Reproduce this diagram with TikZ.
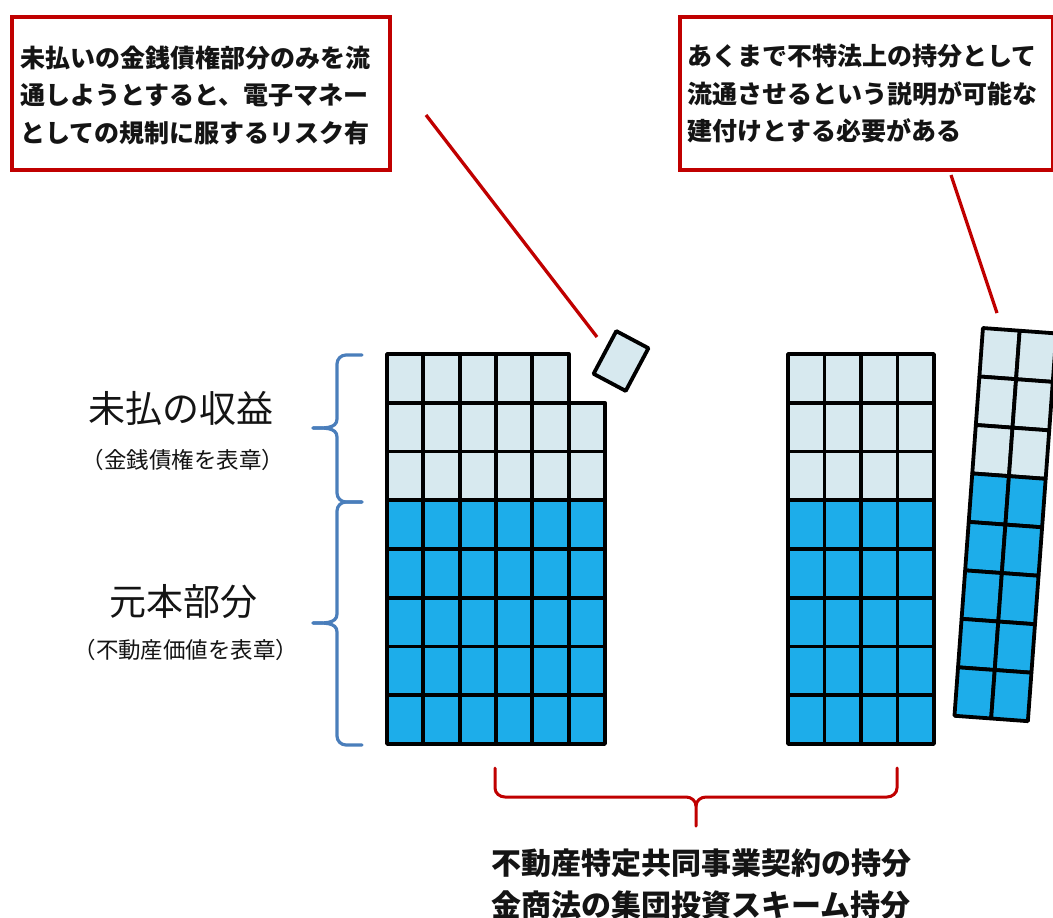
\documentclass[tikz,border=0pt]{standalone}
\usepackage{fontspec}
\newfontfamily\jp{Noto Sans CJK JP}
\definecolor{tileL}{RGB}{215,233,239}
\definecolor{tileD}{RGB}{29,173,234}
\definecolor{boxred}{RGB}{192,0,0}
\definecolor{braceblue}{RGB}{74,126,187}
\definecolor{txt}{RGB}{20,20,20}
\tikzset{
  lightcell/.style={fill=tileL, draw=black, line width=3.8pt, line join=round},
  darkcell/.style={fill=tileD, draw=black, line width=3.8pt, line join=round},
  redbox/.style={draw=boxred, line width=3.6pt, inner sep=0pt},
  redline/.style={draw=boxred, line width=3.3pt},
  bluebrace/.style={draw=braceblue, line width=3.2pt, line cap=round},
  redbrace/.style={draw=boxred, line width=3pt, line cap=round},
  boxtext/.style={font=\jp\bfseries\fontsize{25}{37.5}\selectfont, text=txt, align=left, inner sep=0pt, anchor=west},
  biglabel/.style={font=\jp\fontsize{37}{40}\selectfont, text=txt, inner sep=0pt},
  sublabel/.style={font=\jp\fontsize{22.5}{24}\selectfont, text=txt, inner sep=0pt},
  bottomtext/.style={font=\jp\bfseries\fontsize{30}{42}\selectfont, text=txt, align=center, inner sep=0pt}
}
\begin{document}
\begin{tikzpicture}[x=1pt,y=-1pt]
\useasboundingbox (0,0) rectangle (1053,918);
\fill[white] (0,0) rectangle (1053,918);

% callout boxes
\node[redbox, minimum width=378pt, minimum height=153pt, anchor=north west] (box1) at (10,15) {};
\node[boxtext] (t1) at (20,95) {未払いの金銭債権部分のみを流\\通しようとすると、電子マネー\\としての規制に服するリスク有};
\node[redbox, minimum width=373pt, minimum height=153pt, anchor=north west] (box2) at (678,15) {};
\node[boxtext] (t2) at (687,94) {あくまで不特法上の持分として\\流通させるという説明が可能な\\建付けとする必要がある};

% grid 1
\foreach \c in {0,...,4} \draw[lightcell] ({387+36.33*\c},354) rectangle ++(36.33,48.75);
\foreach \r in {1,2} \foreach \c in {0,...,5} \draw[lightcell] ({387+36.33*\c},{354+48.75*\r}) rectangle ++(36.33,48.75);
\foreach \r in {3,...,7} \foreach \c in {0,...,5} \draw[darkcell] ({387+36.33*\c},{354+48.75*\r}) rectangle ++(36.33,48.75);

% grid 2
\foreach \r in {0,1,2} \foreach \c in {0,...,3} \draw[lightcell] ({788+36.5*\c},{354+48.75*\r}) rectangle ++(36.5,48.75);
\foreach \r in {3,...,7} \foreach \c in {0,...,3} \draw[darkcell] ({788+36.5*\c},{354+48.75*\r}) rectangle ++(36.5,48.75);

% detached tile
\begin{scope}[shift={(621,361)}, rotate=-28]
  \draw[lightcell] (-18.2,-24.2) rectangle (18.2,24.2);
\end{scope}

% tilted column
\begin{scope}[shift={(1005.4,524.7)}, rotate=-4.2]
  \foreach \r in {0,1,2} \foreach \c in {0,1} \draw[lightcell] ({-36.8+36.8*\c},{-194.5+48.6*\r}) rectangle ++(36.8,48.6);
  \foreach \r in {3,...,7} \foreach \c in {0,1} \draw[darkcell] ({-36.8+36.8*\c},{-194.5+48.6*\r}) rectangle ++(36.8,48.6);
\end{scope}

% red pointer lines
\coordinate (p1a) at (426,115);
\coordinate (p1b) at (597,337);
\draw[redline] (p1a) -- (p1b);
\coordinate (p2a) at (951,175);
\coordinate (p2b) at (997,313);
\draw[redline] (p2a) -- (p2b);

% blue braces
\draw[bluebrace] (362,355) -- (346,355) to[out=180,in=90] (337,364) -- (337,419) to[out=-90,in=0] (313,428);
\draw[bluebrace] (313,428) to[out=0,in=90] (337,437) -- (337,493) to[out=-90,in=180] (346,502) -- (362,502);
\draw[bluebrace] (362,502) -- (346,502) to[out=180,in=90] (337,511) -- (337,614) to[out=-90,in=0] (313,623);
\draw[bluebrace] (313,623) to[out=0,in=90] (337,632) -- (337,736) to[out=-90,in=180] (346,745) -- (362,745);

% labels
\node[biglabel] (l1) at (181,408) {未払の収益};
\node[sublabel] (l1s) at (183,460) {（金銭債権を表章）};
\node[biglabel] (l2) at (183,602) {元本部分};
\node[sublabel] (l2s) at (186,650) {（不動産価値を表章）};

% red brace
\draw[redbrace] (495,768) -- (495,788) to[out=-90,in=180] (505,797) -- (686,797) to[out=0,in=90] (696,806) -- (696,826);
\draw[redbrace] (696,806) to[out=90,in=180] (706,797) -- (887,797) to[out=0,in=-90] (897,788) -- (897,768);

% bottom text
\node[bottomtext] (b1) at (701,863) {不動産特定共同事業契約の持分};
\node[bottomtext] (b2) at (701,905) {金商法の集団投資スキーム持分};
\end{tikzpicture}
\end{document}
